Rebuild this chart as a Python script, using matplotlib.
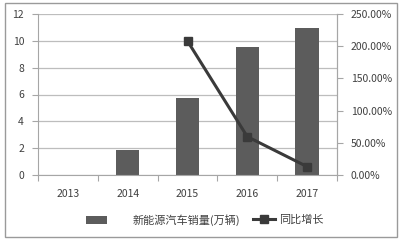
import matplotlib
matplotlib.use("Agg")
import matplotlib.pyplot as plt
import numpy as np
from matplotlib.patches import Rectangle

plt.rcParams['font.family'] = ['Noto Sans CJK SC', 'DejaVu Sans']

years = ['2013', '2014', '2015', '2016', '2017']
sales = [0, 1.86, 5.77, 9.52, 10.97]
growth = [np.nan, np.nan, 208.0, 59.5, 13.0]
left_ticks = [0, 2, 4, 6, 8, 10, 12]
right_ticks = [0, 50, 100, 150, 200, 250]
bar_label = '新能源汽车销量(万辆)'
line_label = '同比增长'

bar_color = '#5c5c5c'
line_color = '#3a3a3a'
text_color = '#404040'
grid_color = '#bdbdbd'
axis_color = '#a6a6a6'

fig = plt.figure(figsize=(4, 2.4), dpi=100)
fig.patches.append(Rectangle((5/400, 3/240), 392/400, 234/240, transform=fig.transFigure,
                             fill=False, edgecolor='#9a9a9a', linewidth=1.0))

ax = fig.add_axes([38/400, 1-175/240, 299/400, 161/240])
x = np.arange(len(years))
b = ax.bar(x, sales, width=0.39, color=bar_color, label=bar_label, zorder=2)
ax.set_xlim(-0.5, len(years)-0.5)
ax.set_ylim(0, 12)
ax.set_yticks(left_ticks)
ax.set_yticklabels([str(t) for t in left_ticks])
ax.yaxis.grid(True, color=grid_color, linewidth=0.9, zorder=0)
ax.set_axisbelow(True)
ax.set_xticks(np.arange(-0.5, len(years), 1.0))
ax.set_xticklabels([])
ax.set_xticks(x, minor=True)
ax.set_xticklabels(years, minor=True)
ax.tick_params(axis='x', which='major', length=4, color=axis_color, width=0.8)
ax.tick_params(axis='x', which='minor', length=0, pad=10, labelsize=7.5, labelcolor=text_color)
ax.tick_params(axis='y', length=4, color=axis_color, width=0.8, labelsize=7.5, labelcolor=text_color, pad=6)
ax.spines['top'].set_visible(False)
for s in ['left', 'bottom', 'right']:
    ax.spines[s].set_color(axis_color)
    ax.spines[s].set_linewidth(0.8)

ax2 = ax.twinx()
ln, = ax2.plot(x, growth, color=line_color, linewidth=2.2, marker='s', markersize=6,
               markerfacecolor=line_color, markeredgecolor=line_color, label=line_label, zorder=3)
ax2.set_ylim(0, 250)
ax2.set_yticks(right_ticks)
ax2.set_yticklabels(['%.2f%%' % t for t in right_ticks])
ax2.tick_params(axis='y', length=4, color=axis_color, width=0.8, labelsize=7.5, labelcolor=text_color, pad=6)
for s in ['top', 'left', 'bottom']:
    ax2.spines[s].set_visible(False)
ax2.spines['right'].set_color(axis_color)
ax2.spines['right'].set_linewidth(0.8)

ly = 1 - 220/240
leg1 = fig.legend([b], [bar_label], loc='center left', bbox_to_anchor=(86/400, ly),
                  frameon=False, fontsize=8, handlelength=1.9, handleheight=0.72,
                  handletextpad=2.25, borderpad=0, borderaxespad=0, labelcolor=text_color)
leg2 = fig.legend([ln], [line_label], loc='center left', bbox_to_anchor=(253/400, ly),
                  frameon=False, fontsize=8, handlelength=2.0, handletextpad=0.3,
                  borderpad=0, borderaxespad=0, labelcolor=text_color)

fig.savefig('out.png', dpi=100, facecolor='white')
